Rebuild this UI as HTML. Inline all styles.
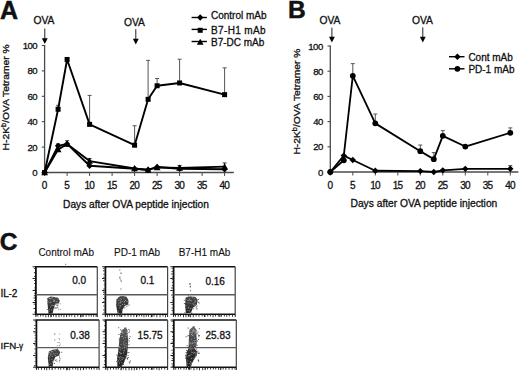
<!DOCTYPE html>
<html><head><meta charset="utf-8"><style>
html,body{margin:0;padding:0;background:#fff;}
svg{display:block;font-family:'Liberation Sans', sans-serif;}
text{fill:#111;stroke:#111;stroke-width:0.3px;}
</style></head><body>
<svg width="520" height="372" viewBox="0 0 520 372">
<rect width="520" height="372" fill="#fff"/>
<text x="0.0" y="19.4" font-size="25" text-anchor="start" font-weight="bold" style="stroke-width:0.5px">A</text>
<text x="288.0" y="18.2" font-size="24.5" text-anchor="start" font-weight="bold" style="stroke-width:0.5px">B</text>
<text x="-0.2" y="249.8" font-size="24.5" text-anchor="start" font-weight="bold" style="stroke-width:0.5px">C</text>
<line x1="44.6" y1="45.00" x2="44.6" y2="173.0" stroke="#4a4a4a" stroke-width="1.3"/>
<line x1="44.1" y1="172.5" x2="233.8" y2="172.5" stroke="#4a4a4a" stroke-width="1.3"/>
<line x1="41.800000000000004" y1="172.50" x2="44.6" y2="172.50" stroke="#4a4a4a" stroke-width="1.1"/>
<text x="37.2" y="176.00" font-size="9.6" text-anchor="end" letter-spacing="-0.5">0</text>
<line x1="41.800000000000004" y1="147.10" x2="44.6" y2="147.10" stroke="#4a4a4a" stroke-width="1.1"/>
<text x="37.2" y="150.60" font-size="9.6" text-anchor="end" letter-spacing="-0.5">20</text>
<line x1="41.800000000000004" y1="121.70" x2="44.6" y2="121.70" stroke="#4a4a4a" stroke-width="1.1"/>
<text x="37.2" y="125.20" font-size="9.6" text-anchor="end" letter-spacing="-0.5">40</text>
<line x1="41.800000000000004" y1="96.30" x2="44.6" y2="96.30" stroke="#4a4a4a" stroke-width="1.1"/>
<text x="37.2" y="99.80" font-size="9.6" text-anchor="end" letter-spacing="-0.5">60</text>
<line x1="41.800000000000004" y1="70.90" x2="44.6" y2="70.90" stroke="#4a4a4a" stroke-width="1.1"/>
<text x="37.2" y="74.40" font-size="9.6" text-anchor="end" letter-spacing="-0.5">80</text>
<line x1="41.800000000000004" y1="45.50" x2="44.6" y2="45.50" stroke="#4a4a4a" stroke-width="1.1"/>
<text x="37.2" y="49.00" font-size="9.6" text-anchor="end" letter-spacing="-0.5">100</text>
<line x1="44.60" y1="172.5" x2="44.60" y2="176.0" stroke="#4a4a4a" stroke-width="1"/>
<text x="44.30" y="188.7" font-size="10" text-anchor="middle" letter-spacing="-0.7">0</text>
<line x1="67.10" y1="172.5" x2="67.10" y2="176.0" stroke="#4a4a4a" stroke-width="1"/>
<text x="66.80" y="188.7" font-size="10" text-anchor="middle" letter-spacing="-0.7">5</text>
<line x1="89.60" y1="172.5" x2="89.60" y2="176.0" stroke="#4a4a4a" stroke-width="1"/>
<text x="89.30" y="188.7" font-size="10" text-anchor="middle" letter-spacing="-0.7">10</text>
<line x1="112.10" y1="172.5" x2="112.10" y2="176.0" stroke="#4a4a4a" stroke-width="1"/>
<text x="111.80" y="188.7" font-size="10" text-anchor="middle" letter-spacing="-0.7">15</text>
<line x1="134.60" y1="172.5" x2="134.60" y2="176.0" stroke="#4a4a4a" stroke-width="1"/>
<text x="134.30" y="188.7" font-size="10" text-anchor="middle" letter-spacing="-0.7">20</text>
<line x1="157.10" y1="172.5" x2="157.10" y2="176.0" stroke="#4a4a4a" stroke-width="1"/>
<text x="156.80" y="188.7" font-size="10" text-anchor="middle" letter-spacing="-0.7">25</text>
<line x1="179.60" y1="172.5" x2="179.60" y2="176.0" stroke="#4a4a4a" stroke-width="1"/>
<text x="179.30" y="188.7" font-size="10" text-anchor="middle" letter-spacing="-0.7">30</text>
<line x1="202.10" y1="172.5" x2="202.10" y2="176.0" stroke="#4a4a4a" stroke-width="1"/>
<text x="201.80" y="188.7" font-size="10" text-anchor="middle" letter-spacing="-0.7">35</text>
<line x1="224.60" y1="172.5" x2="224.60" y2="176.0" stroke="#4a4a4a" stroke-width="1"/>
<text x="224.30" y="188.7" font-size="10" text-anchor="middle" letter-spacing="-0.7">40</text>
<text x="33.5" y="23.5" font-size="10.3" text-anchor="start" font-weight="normal" >OVA</text>
<line x1="44.8" y1="28.6" x2="44.8" y2="39.6" stroke="#222" stroke-width="1"/>
<polygon points="41.9,38.300000000000004 47.699999999999996,38.300000000000004 44.8,44.0" fill="#000"/>
<text x="124.0" y="25.9" font-size="10.3" text-anchor="start" font-weight="normal" >OVA</text>
<line x1="135.8" y1="29.2" x2="135.8" y2="40.0" stroke="#222" stroke-width="1"/>
<polygon points="132.9,38.7 138.70000000000002,38.7 135.8,44.4" fill="#000"/>
<text transform="translate(9.3,150.4) rotate(-90) scale(1.145,1)" font-size="9">H-2K<tspan font-size="6.5" dy="-3.2">b</tspan><tspan dy="3.2">/OVA Tetramer %</tspan></text>
<text x="63.1" y="207.7" font-size="10.1" text-anchor="start" font-weight="normal" textLength="145.8" lengthAdjust="spacingAndGlyphs">Days after OVA peptide injection</text>
<line x1="58.10" y1="109.25" x2="58.10" y2="105.32" stroke="#555" stroke-width="1"/>
<line x1="56.10" y1="105.32" x2="60.10" y2="105.32" stroke="#555" stroke-width="1"/>
<line x1="89.60" y1="124.37" x2="89.60" y2="95.41" stroke="#555" stroke-width="1"/>
<line x1="87.60" y1="95.41" x2="91.60" y2="95.41" stroke="#555" stroke-width="1"/>
<line x1="134.60" y1="145.19" x2="134.60" y2="125.76" stroke="#555" stroke-width="1"/>
<line x1="132.60" y1="125.76" x2="136.60" y2="125.76" stroke="#555" stroke-width="1"/>
<line x1="148.10" y1="99.35" x2="148.10" y2="60.36" stroke="#555" stroke-width="1"/>
<line x1="146.10" y1="60.36" x2="150.10" y2="60.36" stroke="#555" stroke-width="1"/>
<line x1="157.10" y1="85.76" x2="157.10" y2="78.52" stroke="#555" stroke-width="1"/>
<line x1="155.10" y1="78.52" x2="159.10" y2="78.52" stroke="#555" stroke-width="1"/>
<line x1="179.60" y1="82.97" x2="179.60" y2="59.22" stroke="#555" stroke-width="1"/>
<line x1="177.60" y1="59.22" x2="181.60" y2="59.22" stroke="#555" stroke-width="1"/>
<line x1="224.60" y1="94.65" x2="224.60" y2="67.85" stroke="#555" stroke-width="1"/>
<line x1="222.60" y1="67.85" x2="226.60" y2="67.85" stroke="#555" stroke-width="1"/>
<line x1="58.10" y1="145.83" x2="58.10" y2="143.93" stroke="#333" stroke-width="1"/>
<line x1="56.10" y1="143.93" x2="60.10" y2="143.93" stroke="#333" stroke-width="1"/>
<line x1="67.10" y1="143.93" x2="67.10" y2="140.75" stroke="#333" stroke-width="1"/>
<line x1="65.10" y1="140.75" x2="69.10" y2="140.75" stroke="#333" stroke-width="1"/>
<line x1="89.60" y1="161.07" x2="89.60" y2="158.53" stroke="#333" stroke-width="1"/>
<line x1="87.60" y1="158.53" x2="91.60" y2="158.53" stroke="#333" stroke-width="1"/>
<line x1="179.60" y1="167.93" x2="179.60" y2="165.51" stroke="#333" stroke-width="1"/>
<line x1="177.60" y1="165.51" x2="181.60" y2="165.51" stroke="#333" stroke-width="1"/>
<line x1="224.60" y1="166.66" x2="224.60" y2="162.97" stroke="#333" stroke-width="1"/>
<line x1="222.60" y1="162.97" x2="226.60" y2="162.97" stroke="#333" stroke-width="1"/>
<polyline points="44.60,172.50 58.10,145.83 67.10,143.93 89.60,165.77 134.60,168.69 148.10,169.71 157.10,167.04 179.60,168.69 224.60,169.32" fill="none" stroke="#000" stroke-width="1.9" stroke-linejoin="round"/>
<polyline points="44.60,172.50 58.10,149.64 67.10,143.93 89.60,161.07 134.60,168.44 148.10,169.96 157.10,167.42 179.60,167.93 224.60,166.66" fill="none" stroke="#000" stroke-width="1.9" stroke-linejoin="round"/>
<polyline points="44.60,172.50 58.10,109.25 67.10,59.47 89.60,124.37 134.60,145.19 148.10,99.35 157.10,85.76 179.60,82.97 224.60,94.65" fill="none" stroke="#000" stroke-width="1.9" stroke-linejoin="round"/>
<polygon points="44.60,169.30 47.80,172.50 44.60,175.70 41.40,172.50" fill="#000"/>
<polygon points="58.10,142.63 61.30,145.83 58.10,149.03 54.90,145.83" fill="#000"/>
<polygon points="67.10,140.73 70.30,143.93 67.10,147.12 63.90,143.93" fill="#000"/>
<polygon points="89.60,162.57 92.80,165.77 89.60,168.97 86.40,165.77" fill="#000"/>
<polygon points="134.60,165.49 137.80,168.69 134.60,171.89 131.40,168.69" fill="#000"/>
<polygon points="148.10,166.51 151.30,169.71 148.10,172.91 144.90,169.71" fill="#000"/>
<polygon points="157.10,163.84 160.30,167.04 157.10,170.24 153.90,167.04" fill="#000"/>
<polygon points="179.60,165.49 182.80,168.69 179.60,171.89 176.40,168.69" fill="#000"/>
<polygon points="224.60,166.12 227.80,169.32 224.60,172.52 221.40,169.32" fill="#000"/>
<polygon points="44.60,169.10 48.00,175.22 41.20,175.22" fill="#000"/>
<polygon points="58.10,146.24 61.50,152.36 54.70,152.36" fill="#000"/>
<polygon points="67.10,140.53 70.50,146.65 63.70,146.65" fill="#000"/>
<polygon points="89.60,157.67 93.00,163.79 86.20,163.79" fill="#000"/>
<polygon points="134.60,165.04 138.00,171.16 131.20,171.16" fill="#000"/>
<polygon points="148.10,166.56 151.50,172.68 144.70,172.68" fill="#000"/>
<polygon points="157.10,164.02 160.50,170.14 153.70,170.14" fill="#000"/>
<polygon points="179.60,164.53 183.00,170.65 176.20,170.65" fill="#000"/>
<polygon points="224.60,163.26 228.00,169.38 221.20,169.38" fill="#000"/>
<rect x="42.10" y="170.00" width="5" height="5" fill="#000"/>
<rect x="55.60" y="106.75" width="5" height="5" fill="#000"/>
<rect x="64.60" y="56.97" width="5" height="5" fill="#000"/>
<rect x="87.10" y="121.87" width="5" height="5" fill="#000"/>
<rect x="132.10" y="142.69" width="5" height="5" fill="#000"/>
<rect x="145.60" y="96.85" width="5" height="5" fill="#000"/>
<rect x="154.60" y="83.26" width="5" height="5" fill="#000"/>
<rect x="177.10" y="80.47" width="5" height="5" fill="#000"/>
<rect x="222.10" y="92.15" width="5" height="5" fill="#000"/>
<line x1="191.6" y1="17.5" x2="206.9" y2="17.5" stroke="#000" stroke-width="1.4"/>
<polygon points="200.20,14.30 203.40,17.50 200.20,20.70 197.00,17.50" fill="#000"/>
<text x="211.0" y="19.3" font-size="10" text-anchor="start" font-weight="normal" >Control mAb</text>
<line x1="191.6" y1="29.4" x2="206.9" y2="29.4" stroke="#000" stroke-width="1.4"/>
<rect x="197.70" y="27.80" width="5" height="5" fill="#000"/>
<text x="211.0" y="34.3" font-size="10" text-anchor="start" font-weight="normal" textLength="54.6" lengthAdjust="spacing">B7-H1 mAb</text>
<line x1="191.6" y1="41.5" x2="206.9" y2="41.5" stroke="#000" stroke-width="1.4"/>
<polygon points="200.20,38.70 203.60,44.82 196.80,44.82" fill="#000"/>
<text x="211.0" y="45.7" font-size="10" text-anchor="start" font-weight="normal" >B7-DC mAb</text>
<line x1="330.3" y1="45.50" x2="330.3" y2="172.5" stroke="#4a4a4a" stroke-width="1.3"/>
<line x1="329.8" y1="172.0" x2="518.4" y2="172.0" stroke="#4a4a4a" stroke-width="1.3"/>
<line x1="327.5" y1="172.00" x2="330.3" y2="172.00" stroke="#4a4a4a" stroke-width="1.1"/>
<text x="322.8" y="175.50" font-size="9.6" text-anchor="end" letter-spacing="-0.5">0</text>
<line x1="327.5" y1="146.80" x2="330.3" y2="146.80" stroke="#4a4a4a" stroke-width="1.1"/>
<text x="322.8" y="150.30" font-size="9.6" text-anchor="end" letter-spacing="-0.5">20</text>
<line x1="327.5" y1="121.60" x2="330.3" y2="121.60" stroke="#4a4a4a" stroke-width="1.1"/>
<text x="322.8" y="125.10" font-size="9.6" text-anchor="end" letter-spacing="-0.5">40</text>
<line x1="327.5" y1="96.40" x2="330.3" y2="96.40" stroke="#4a4a4a" stroke-width="1.1"/>
<text x="322.8" y="99.90" font-size="9.6" text-anchor="end" letter-spacing="-0.5">60</text>
<line x1="327.5" y1="71.20" x2="330.3" y2="71.20" stroke="#4a4a4a" stroke-width="1.1"/>
<text x="322.8" y="74.70" font-size="9.6" text-anchor="end" letter-spacing="-0.5">80</text>
<line x1="327.5" y1="46.00" x2="330.3" y2="46.00" stroke="#4a4a4a" stroke-width="1.1"/>
<text x="322.8" y="49.50" font-size="9.6" text-anchor="end" letter-spacing="-0.5">100</text>
<line x1="330.30" y1="172.0" x2="330.30" y2="175.5" stroke="#4a4a4a" stroke-width="1"/>
<text x="330.00" y="188.7" font-size="10" text-anchor="middle" letter-spacing="-0.7">0</text>
<line x1="352.80" y1="172.0" x2="352.80" y2="175.5" stroke="#4a4a4a" stroke-width="1"/>
<text x="352.50" y="188.7" font-size="10" text-anchor="middle" letter-spacing="-0.7">5</text>
<line x1="375.30" y1="172.0" x2="375.30" y2="175.5" stroke="#4a4a4a" stroke-width="1"/>
<text x="375.00" y="188.7" font-size="10" text-anchor="middle" letter-spacing="-0.7">10</text>
<line x1="397.80" y1="172.0" x2="397.80" y2="175.5" stroke="#4a4a4a" stroke-width="1"/>
<text x="397.50" y="188.7" font-size="10" text-anchor="middle" letter-spacing="-0.7">15</text>
<line x1="420.30" y1="172.0" x2="420.30" y2="175.5" stroke="#4a4a4a" stroke-width="1"/>
<text x="420.00" y="188.7" font-size="10" text-anchor="middle" letter-spacing="-0.7">20</text>
<line x1="442.80" y1="172.0" x2="442.80" y2="175.5" stroke="#4a4a4a" stroke-width="1"/>
<text x="442.50" y="188.7" font-size="10" text-anchor="middle" letter-spacing="-0.7">25</text>
<line x1="465.30" y1="172.0" x2="465.30" y2="175.5" stroke="#4a4a4a" stroke-width="1"/>
<text x="465.00" y="188.7" font-size="10" text-anchor="middle" letter-spacing="-0.7">30</text>
<line x1="487.80" y1="172.0" x2="487.80" y2="175.5" stroke="#4a4a4a" stroke-width="1"/>
<text x="487.50" y="188.7" font-size="10" text-anchor="middle" letter-spacing="-0.7">35</text>
<line x1="510.30" y1="172.0" x2="510.30" y2="175.5" stroke="#4a4a4a" stroke-width="1"/>
<text x="510.00" y="188.7" font-size="10" text-anchor="middle" letter-spacing="-0.7">40</text>
<text x="319.5" y="24.3" font-size="10.3" text-anchor="start" font-weight="normal" >OVA</text>
<line x1="331.9" y1="27.6" x2="331.9" y2="38.0" stroke="#222" stroke-width="1"/>
<polygon points="329.0,36.7 334.79999999999995,36.7 331.9,42.4" fill="#000"/>
<text x="412.0" y="23.8" font-size="10.3" text-anchor="start" font-weight="normal" >OVA</text>
<line x1="422.8" y1="27.4" x2="422.8" y2="38.0" stroke="#222" stroke-width="1"/>
<polygon points="419.90000000000003,36.7 425.7,36.7 422.8,42.4" fill="#000"/>
<text transform="translate(300.3,154.6) rotate(-90) scale(1.145,1)" font-size="9">H-2K<tspan font-size="6.5" dy="-3.2">b</tspan><tspan dy="3.2">/OVA Tetramer %</tspan></text>
<text x="350.5" y="207.3" font-size="10.1" text-anchor="start" font-weight="normal" textLength="146.8" lengthAdjust="spacingAndGlyphs">Days after OVA peptide injection</text>
<line x1="352.80" y1="75.86" x2="352.80" y2="63.64" stroke="#555" stroke-width="1"/>
<line x1="350.80" y1="63.64" x2="354.80" y2="63.64" stroke="#555" stroke-width="1"/>
<line x1="375.30" y1="123.36" x2="375.30" y2="114.04" stroke="#555" stroke-width="1"/>
<line x1="373.30" y1="114.04" x2="377.30" y2="114.04" stroke="#555" stroke-width="1"/>
<line x1="420.30" y1="151.21" x2="420.30" y2="145.04" stroke="#555" stroke-width="1"/>
<line x1="418.30" y1="145.04" x2="422.30" y2="145.04" stroke="#555" stroke-width="1"/>
<line x1="433.80" y1="159.15" x2="433.80" y2="152.60" stroke="#555" stroke-width="1"/>
<line x1="431.80" y1="152.60" x2="435.80" y2="152.60" stroke="#555" stroke-width="1"/>
<line x1="442.80" y1="135.84" x2="442.80" y2="130.67" stroke="#555" stroke-width="1"/>
<line x1="440.80" y1="130.67" x2="444.80" y2="130.67" stroke="#555" stroke-width="1"/>
<line x1="510.30" y1="132.81" x2="510.30" y2="127.90" stroke="#555" stroke-width="1"/>
<line x1="508.30" y1="127.90" x2="512.30" y2="127.90" stroke="#555" stroke-width="1"/>
<line x1="510.30" y1="168.85" x2="510.30" y2="165.70" stroke="#333" stroke-width="1"/>
<line x1="508.30" y1="165.70" x2="512.30" y2="165.70" stroke="#333" stroke-width="1"/>
<polyline points="330.30,172.00 343.80,155.62 352.80,160.03 375.30,170.74 420.30,171.12 433.80,172.00 442.80,170.36 465.30,168.85 510.30,168.85" fill="none" stroke="#000" stroke-width="1.8" stroke-linejoin="round"/>
<polyline points="330.30,172.00 343.80,160.28 343.80,155.62 352.80,75.86 375.30,123.36 420.30,151.21 433.80,159.15 442.80,135.84 465.30,146.55 510.30,132.81" fill="none" stroke="#000" stroke-width="1.8" stroke-linejoin="round"/>
<polygon points="330.30,168.80 333.50,172.00 330.30,175.20 327.10,172.00" fill="#000"/>
<polygon points="343.80,152.42 347.00,155.62 343.80,158.82 340.60,155.62" fill="#000"/>
<polygon points="352.80,156.83 356.00,160.03 352.80,163.23 349.60,160.03" fill="#000"/>
<polygon points="375.30,167.54 378.50,170.74 375.30,173.94 372.10,170.74" fill="#000"/>
<polygon points="420.30,167.92 423.50,171.12 420.30,174.32 417.10,171.12" fill="#000"/>
<polygon points="433.80,168.80 437.00,172.00 433.80,175.20 430.60,172.00" fill="#000"/>
<polygon points="442.80,167.16 446.00,170.36 442.80,173.56 439.60,170.36" fill="#000"/>
<polygon points="465.30,165.65 468.50,168.85 465.30,172.05 462.10,168.85" fill="#000"/>
<polygon points="510.30,165.65 513.50,168.85 510.30,172.05 507.10,168.85" fill="#000"/>
<circle cx="330.30" cy="172.00" r="2.9" fill="#000"/>
<circle cx="343.80" cy="160.28" r="2.9" fill="#000"/>
<circle cx="352.80" cy="75.86" r="2.9" fill="#000"/>
<circle cx="375.30" cy="123.36" r="2.9" fill="#000"/>
<circle cx="420.30" cy="151.21" r="2.9" fill="#000"/>
<circle cx="433.80" cy="159.15" r="2.9" fill="#000"/>
<circle cx="442.80" cy="135.84" r="2.9" fill="#000"/>
<circle cx="465.30" cy="146.55" r="2.9" fill="#000"/>
<circle cx="510.30" cy="132.81" r="2.9" fill="#000"/>
<line x1="449" y1="56.7" x2="464.5" y2="56.7" stroke="#000" stroke-width="1.4"/>
<polygon points="457.40,53.50 460.60,56.70 457.40,59.90 454.20,56.70" fill="#000"/>
<text x="468.4" y="61.300000000000004" font-size="10" text-anchor="start" font-weight="normal" >Cont mAb</text>
<line x1="449" y1="68.8" x2="464.5" y2="68.8" stroke="#000" stroke-width="1.4"/>
<circle cx="457.40" cy="68.80" r="2.9" fill="#000"/>
<text x="468.4" y="73.39999999999999" font-size="10" text-anchor="start" font-weight="normal" >PD-1 mAb</text>
<text x="38.4" y="255.6" font-size="10" text-anchor="start" font-weight="normal" style="stroke-width:0.12px">Control mAb</text>
<text x="114.0" y="255.9" font-size="10" text-anchor="start" font-weight="normal" style="stroke-width:0.12px">PD-1 mAb</text>
<text x="178.7" y="255.9" font-size="10" text-anchor="start" font-weight="normal" style="stroke-width:0.12px">B7-H1 mAb</text>
<text x="0.6" y="297.0" font-size="10.1" text-anchor="start" font-weight="normal" letter-spacing="-0.2">IL-2</text>
<rect x="65.2" y="263.8" width="1" height="1" fill="#555"/>
<text x="0.6" y="349.1" font-size="9.7" text-anchor="start" font-weight="normal" >IFN<tspan dx="-0.3" dy="0.9">-</tspan><tspan dy="-0.9" font-size="8.2" dx="-0.2">&#947;</tspan></text>
<line x1="34.9" y1="266.7" x2="97.3" y2="266.7" stroke="#111" stroke-width="1.6"/>
<line x1="97.3" y1="266.7" x2="97.3" y2="314.3" stroke="#444" stroke-width="1.2"/>
<line x1="35.9" y1="314.3" x2="97.3" y2="314.3" stroke="#111" stroke-width="1.5"/>
<line x1="35.9" y1="266.7" x2="35.9" y2="315.3" stroke="#111" stroke-width="1.8"/>
<line x1="35.9" y1="294.7" x2="97.3" y2="294.7" stroke="#5a5a5a" stroke-width="1.4"/>
<path d="M33.9 267.9h1.1v0.9h-1.1zM33.9 272.3h1.1v0.9h-1.1zM34.2 276.0h0.8v0.9h-0.8zM34.2 280.1h0.8v0.9h-0.8zM34.2 283.1h0.8v0.9h-0.8zM34.2 287.4h0.8v0.9h-0.8zM33.9 289.7h1.1v0.9h-1.1zM34.2 292.8h0.8v0.9h-0.8zM33.9 295.3h1.1v0.9h-1.1zM33.5 297.6h1.5v0.9h-1.5zM34.2 300.1h0.8v0.9h-0.8zM33.5 303.7h1.5v0.9h-1.5zM33.5 308.1h1.5v0.9h-1.5zM34.2 311.7h0.8v0.9h-0.8zM37.4 315.0h0.9v1.4h-0.9zM40.2 315.0h0.9v1.4h-0.9zM42.6 315.0h0.9v1.4h-0.9zM45.4 315.0h0.9v2.2h-0.9zM47.9 315.0h0.9v2.2h-0.9zM50.3 315.0h0.9v2.2h-0.9zM53.0 315.0h0.9v1.4h-0.9zM55.6 315.0h0.9v2.2h-0.9zM58.5 315.0h0.9v2.2h-0.9zM60.8 315.0h0.9v1.4h-0.9zM63.5 315.0h0.9v2.2h-0.9zM66.1 315.0h0.9v1.8h-0.9zM68.8 315.0h0.9v1.8h-0.9zM71.3 315.0h0.9v1.4h-0.9zM74.3 315.0h0.9v2.2h-0.9zM77.3 315.0h0.9v1.4h-0.9zM80.1 315.0h0.9v2.2h-0.9zM82.8 315.0h0.9v1.8h-0.9zM85.7 315.0h0.9v1.8h-0.9zM88.5 315.0h0.9v1.4h-0.9zM90.8 315.0h0.9v1.8h-0.9zM93.2 315.0h0.9v1.8h-0.9zM95.6 315.0h0.9v1.8h-0.9zM32.6 313.8h2.5v1h-2.5zM35.4 314.3h1v2.8h-1zM32.6 301.9h2.5v1h-2.5zM50.8 314.3h1v2.8h-1zM32.6 290.0h2.5v1h-2.5zM66.1 314.3h1v2.8h-1zM32.6 278.1h2.5v1h-2.5zM81.4 314.3h1v2.8h-1zM32.6 266.2h2.5v1h-2.5zM96.8 314.3h1v2.8h-1z" fill="#222"/>
<text x="72.2" y="283.5" font-size="10" text-anchor="start" font-weight="normal" >0.0</text>
<line x1="104.4" y1="266.7" x2="167.6" y2="266.7" stroke="#111" stroke-width="1.6"/>
<line x1="167.6" y1="266.7" x2="167.6" y2="314.3" stroke="#444" stroke-width="1.2"/>
<line x1="105.4" y1="314.3" x2="167.6" y2="314.3" stroke="#111" stroke-width="1.5"/>
<line x1="105.4" y1="266.7" x2="105.4" y2="315.3" stroke="#111" stroke-width="1.8"/>
<line x1="105.4" y1="294.7" x2="167.6" y2="294.7" stroke="#5a5a5a" stroke-width="1.4"/>
<path d="M103.0 267.9h1.5v0.9h-1.5zM103.0 270.3h1.5v0.9h-1.5zM103.4 273.8h1.1v0.9h-1.1zM103.4 276.8h1.1v0.9h-1.1zM103.0 280.3h1.5v0.9h-1.5zM103.7 284.4h0.8v0.9h-0.8zM103.4 288.5h1.1v0.9h-1.1zM103.0 291.8h1.5v0.9h-1.5zM103.0 294.2h1.5v0.9h-1.5zM103.0 298.0h1.5v0.9h-1.5zM103.0 301.5h1.5v0.9h-1.5zM103.4 305.6h1.1v0.9h-1.1zM103.0 309.4h1.5v0.9h-1.5zM103.4 312.4h1.1v0.9h-1.1zM106.9 315.0h0.9v2.2h-0.9zM109.2 315.0h0.9v1.4h-0.9zM111.6 315.0h0.9v1.8h-0.9zM114.0 315.0h0.9v1.4h-0.9zM116.6 315.0h0.9v1.8h-0.9zM118.8 315.0h0.9v1.8h-0.9zM121.4 315.0h0.9v1.8h-0.9zM124.5 315.0h0.9v1.8h-0.9zM127.6 315.0h0.9v1.8h-0.9zM130.5 315.0h0.9v1.8h-0.9zM133.4 315.0h0.9v1.8h-0.9zM136.5 315.0h0.9v1.4h-0.9zM138.8 315.0h0.9v1.4h-0.9zM141.3 315.0h0.9v1.4h-0.9zM143.5 315.0h0.9v2.2h-0.9zM145.8 315.0h0.9v1.8h-0.9zM148.1 315.0h0.9v1.8h-0.9zM150.8 315.0h0.9v2.2h-0.9zM153.6 315.0h0.9v1.4h-0.9zM156.4 315.0h0.9v2.2h-0.9zM159.6 315.0h0.9v2.2h-0.9zM162.5 315.0h0.9v1.4h-0.9zM165.1 315.0h0.9v2.2h-0.9zM102.1 313.8h2.5v1h-2.5zM104.9 314.3h1v2.8h-1zM102.1 301.9h2.5v1h-2.5zM120.5 314.3h1v2.8h-1zM102.1 290.0h2.5v1h-2.5zM136.0 314.3h1v2.8h-1zM102.1 278.1h2.5v1h-2.5zM151.6 314.3h1v2.8h-1zM102.1 266.2h2.5v1h-2.5zM167.1 314.3h1v2.8h-1z" fill="#222"/>
<text x="140.5" y="283.5" font-size="10" text-anchor="start" font-weight="normal" >0.1</text>
<line x1="172.6" y1="266.7" x2="235.2" y2="266.7" stroke="#111" stroke-width="1.6"/>
<line x1="235.2" y1="266.7" x2="235.2" y2="314.3" stroke="#444" stroke-width="1.2"/>
<line x1="173.6" y1="314.3" x2="235.2" y2="314.3" stroke="#111" stroke-width="1.5"/>
<line x1="173.6" y1="266.7" x2="173.6" y2="315.3" stroke="#111" stroke-width="1.8"/>
<line x1="173.6" y1="294.7" x2="235.2" y2="294.7" stroke="#5a5a5a" stroke-width="1.4"/>
<path d="M171.6 267.9h1.1v0.9h-1.1zM171.6 271.0h1.1v0.9h-1.1zM171.2 273.5h1.5v0.9h-1.5zM171.9 276.6h0.8v0.9h-0.8zM171.9 278.9h0.8v0.9h-0.8zM171.9 282.1h0.8v0.9h-0.8zM171.9 285.1h0.8v0.9h-0.8zM171.2 287.6h1.5v0.9h-1.5zM171.9 290.1h0.8v0.9h-0.8zM171.2 294.5h1.5v0.9h-1.5zM171.9 296.7h0.8v0.9h-0.8zM171.9 300.4h0.8v0.9h-0.8zM171.6 304.0h1.1v0.9h-1.1zM171.6 307.6h1.1v0.9h-1.1zM171.6 310.1h1.1v0.9h-1.1zM175.1 315.0h0.9v1.8h-0.9zM177.8 315.0h0.9v1.8h-0.9zM180.1 315.0h0.9v1.4h-0.9zM183.0 315.0h0.9v2.2h-0.9zM185.5 315.0h0.9v2.2h-0.9zM187.8 315.0h0.9v1.4h-0.9zM190.2 315.0h0.9v2.2h-0.9zM192.8 315.0h0.9v2.2h-0.9zM195.6 315.0h0.9v1.4h-0.9zM198.5 315.0h0.9v1.8h-0.9zM201.7 315.0h0.9v1.4h-0.9zM204.6 315.0h0.9v1.8h-0.9zM207.3 315.0h0.9v1.4h-0.9zM209.9 315.0h0.9v1.4h-0.9zM212.6 315.0h0.9v2.2h-0.9zM215.1 315.0h0.9v1.4h-0.9zM217.9 315.0h0.9v1.4h-0.9zM220.9 315.0h0.9v1.8h-0.9zM223.9 315.0h0.9v1.4h-0.9zM226.3 315.0h0.9v1.8h-0.9zM228.8 315.0h0.9v1.4h-0.9zM232.0 315.0h0.9v1.8h-0.9zM170.3 313.8h2.5v1h-2.5zM173.1 314.3h1v2.8h-1zM170.3 301.9h2.5v1h-2.5zM188.5 314.3h1v2.8h-1zM170.3 290.0h2.5v1h-2.5zM203.9 314.3h1v2.8h-1zM170.3 278.1h2.5v1h-2.5zM219.3 314.3h1v2.8h-1zM170.3 266.2h2.5v1h-2.5zM234.7 314.3h1v2.8h-1z" fill="#222"/>
<text x="205.4" y="285.4" font-size="10" text-anchor="start" font-weight="normal" >0.16</text>
<line x1="35.4" y1="320.0" x2="99.1" y2="320.0" stroke="#111" stroke-width="1.6"/>
<line x1="99.1" y1="320.0" x2="99.1" y2="367.3" stroke="#444" stroke-width="1.2"/>
<line x1="36.4" y1="367.3" x2="99.1" y2="367.3" stroke="#111" stroke-width="1.5"/>
<line x1="36.4" y1="320.0" x2="36.4" y2="368.3" stroke="#111" stroke-width="1.8"/>
<line x1="36.4" y1="347.6" x2="99.1" y2="347.6" stroke="#5a5a5a" stroke-width="1.4"/>
<path d="M34.7 321.2h0.8v0.9h-0.8zM34.4 325.0h1.1v0.9h-1.1zM34.0 328.2h1.5v0.9h-1.5zM34.4 332.7h1.1v0.9h-1.1zM34.7 335.1h0.8v0.9h-0.8zM34.7 337.8h0.8v0.9h-0.8zM34.4 340.8h1.1v0.9h-1.1zM34.0 344.4h1.5v0.9h-1.5zM34.4 348.5h1.1v0.9h-1.1zM34.4 352.8h1.1v0.9h-1.1zM34.7 356.9h0.8v0.9h-0.8zM34.7 361.0h0.8v0.9h-0.8zM34.0 365.3h1.5v0.9h-1.5zM37.9 368.0h0.9v1.8h-0.9zM41.0 368.0h0.9v1.8h-0.9zM44.0 368.0h0.9v1.8h-0.9zM46.3 368.0h0.9v2.2h-0.9zM48.9 368.0h0.9v1.8h-0.9zM51.8 368.0h0.9v1.4h-0.9zM54.7 368.0h0.9v1.4h-0.9zM57.9 368.0h0.9v1.4h-0.9zM60.3 368.0h0.9v1.8h-0.9zM63.3 368.0h0.9v1.4h-0.9zM66.1 368.0h0.9v2.2h-0.9zM69.3 368.0h0.9v2.2h-0.9zM72.4 368.0h0.9v1.4h-0.9zM75.2 368.0h0.9v1.4h-0.9zM77.4 368.0h0.9v2.2h-0.9zM80.2 368.0h0.9v2.2h-0.9zM83.2 368.0h0.9v1.4h-0.9zM85.8 368.0h0.9v1.4h-0.9zM88.8 368.0h0.9v1.4h-0.9zM91.1 368.0h0.9v1.4h-0.9zM93.6 368.0h0.9v1.4h-0.9zM96.5 368.0h0.9v1.8h-0.9zM33.1 366.8h2.5v1h-2.5zM35.9 367.3h1v2.8h-1zM33.1 355.0h2.5v1h-2.5zM51.6 367.3h1v2.8h-1zM33.1 343.1h2.5v1h-2.5zM67.2 367.3h1v2.8h-1zM33.1 331.3h2.5v1h-2.5zM82.9 367.3h1v2.8h-1zM33.1 319.5h2.5v1h-2.5zM98.6 367.3h1v2.8h-1z" fill="#222"/>
<text x="70.3" y="338.7" font-size="10" text-anchor="start" font-weight="normal" >0.38</text>
<line x1="104.8" y1="320.0" x2="167.6" y2="320.0" stroke="#111" stroke-width="1.6"/>
<line x1="167.6" y1="320.0" x2="167.6" y2="367.3" stroke="#444" stroke-width="1.2"/>
<line x1="105.8" y1="367.3" x2="167.6" y2="367.3" stroke="#111" stroke-width="1.5"/>
<line x1="105.8" y1="320.0" x2="105.8" y2="368.3" stroke="#111" stroke-width="1.8"/>
<line x1="105.8" y1="347.6" x2="167.6" y2="347.6" stroke="#5a5a5a" stroke-width="1.4"/>
<path d="M103.8 321.2h1.1v0.9h-1.1zM104.1 325.3h0.8v0.9h-0.8zM103.8 329.6h1.1v0.9h-1.1zM103.4 333.9h1.5v0.9h-1.5zM103.4 337.4h1.5v0.9h-1.5zM103.4 340.6h1.5v0.9h-1.5zM104.1 343.1h0.8v0.9h-0.8zM104.1 346.5h0.8v0.9h-0.8zM104.1 350.7h0.8v0.9h-0.8zM104.1 354.3h0.8v0.9h-0.8zM103.8 356.9h1.1v0.9h-1.1zM104.1 360.5h0.8v0.9h-0.8zM103.8 364.0h1.1v0.9h-1.1zM107.3 368.0h0.9v2.2h-0.9zM110.1 368.0h0.9v1.4h-0.9zM113.1 368.0h0.9v1.4h-0.9zM115.6 368.0h0.9v1.8h-0.9zM117.8 368.0h0.9v1.4h-0.9zM120.5 368.0h0.9v2.2h-0.9zM122.8 368.0h0.9v1.4h-0.9zM125.4 368.0h0.9v2.2h-0.9zM128.6 368.0h0.9v2.2h-0.9zM131.3 368.0h0.9v2.2h-0.9zM133.8 368.0h0.9v2.2h-0.9zM136.5 368.0h0.9v1.8h-0.9zM139.2 368.0h0.9v1.4h-0.9zM142.1 368.0h0.9v1.8h-0.9zM145.2 368.0h0.9v1.4h-0.9zM148.3 368.0h0.9v1.4h-0.9zM150.9 368.0h0.9v1.8h-0.9zM153.5 368.0h0.9v1.4h-0.9zM156.4 368.0h0.9v1.8h-0.9zM158.7 368.0h0.9v2.2h-0.9zM161.2 368.0h0.9v1.4h-0.9zM164.3 368.0h0.9v1.4h-0.9zM102.5 366.8h2.5v1h-2.5zM105.3 367.3h1v2.8h-1zM102.5 355.0h2.5v1h-2.5zM120.8 367.3h1v2.8h-1zM102.5 343.1h2.5v1h-2.5zM136.2 367.3h1v2.8h-1zM102.5 331.3h2.5v1h-2.5zM151.6 367.3h1v2.8h-1zM102.5 319.5h2.5v1h-2.5zM167.1 367.3h1v2.8h-1z" fill="#222"/>
<text x="137.6" y="338.7" font-size="10" text-anchor="start" font-weight="normal" >15.75</text>
<line x1="172.8" y1="320.0" x2="236.3" y2="320.0" stroke="#111" stroke-width="1.6"/>
<line x1="236.3" y1="320.0" x2="236.3" y2="367.3" stroke="#444" stroke-width="1.2"/>
<line x1="173.8" y1="367.3" x2="236.3" y2="367.3" stroke="#111" stroke-width="1.5"/>
<line x1="173.8" y1="320.0" x2="173.8" y2="368.3" stroke="#111" stroke-width="1.8"/>
<line x1="173.8" y1="347.6" x2="236.3" y2="347.6" stroke="#5a5a5a" stroke-width="1.4"/>
<path d="M171.4 321.2h1.5v0.9h-1.5zM172.1 324.9h0.8v0.9h-0.8zM172.1 327.7h0.8v0.9h-0.8zM172.1 332.1h0.8v0.9h-0.8zM172.1 336.0h0.8v0.9h-0.8zM171.8 339.2h1.1v0.9h-1.1zM171.4 341.7h1.5v0.9h-1.5zM172.1 345.8h0.8v0.9h-0.8zM171.4 349.7h1.5v0.9h-1.5zM171.8 352.8h1.1v0.9h-1.1zM171.8 355.5h1.1v0.9h-1.1zM171.8 357.9h1.1v0.9h-1.1zM171.4 360.1h1.5v0.9h-1.5zM171.4 363.4h1.5v0.9h-1.5zM171.8 365.6h1.1v0.9h-1.1zM175.3 368.0h0.9v1.8h-0.9zM178.0 368.0h0.9v1.4h-0.9zM180.3 368.0h0.9v1.4h-0.9zM183.5 368.0h0.9v1.4h-0.9zM185.8 368.0h0.9v1.8h-0.9zM188.0 368.0h0.9v1.4h-0.9zM190.5 368.0h0.9v1.4h-0.9zM193.5 368.0h0.9v2.2h-0.9zM196.5 368.0h0.9v1.8h-0.9zM199.1 368.0h0.9v2.2h-0.9zM202.3 368.0h0.9v2.2h-0.9zM204.9 368.0h0.9v1.8h-0.9zM207.2 368.0h0.9v1.4h-0.9zM210.2 368.0h0.9v1.4h-0.9zM212.9 368.0h0.9v1.4h-0.9zM215.3 368.0h0.9v1.4h-0.9zM218.2 368.0h0.9v1.8h-0.9zM220.5 368.0h0.9v1.4h-0.9zM222.7 368.0h0.9v1.4h-0.9zM225.4 368.0h0.9v1.8h-0.9zM228.6 368.0h0.9v1.8h-0.9zM231.7 368.0h0.9v1.8h-0.9zM234.5 368.0h0.9v1.4h-0.9zM170.5 366.8h2.5v1h-2.5zM173.3 367.3h1v2.8h-1zM170.5 355.0h2.5v1h-2.5zM188.9 367.3h1v2.8h-1zM170.5 343.1h2.5v1h-2.5zM204.6 367.3h1v2.8h-1zM170.5 331.3h2.5v1h-2.5zM220.2 367.3h1v2.8h-1zM170.5 319.5h2.5v1h-2.5zM235.8 367.3h1v2.8h-1z" fill="#222"/>
<text x="205.5" y="338.7" font-size="10" text-anchor="start" font-weight="normal" >25.83</text>
<defs><linearGradient id="gb" x1="0" y1="0" x2="0" y2="1"><stop offset="0" stop-color="#4a4a4a"/><stop offset="0.45" stop-color="#383838"/><stop offset="1" stop-color="#252525"/></linearGradient></defs>
<defs><linearGradient id="gb2" x1="0" y1="0" x2="0" y2="1"><stop offset="0" stop-color="#6a6a6a"/><stop offset="0.3" stop-color="#4a4a4a"/><stop offset="0.5" stop-color="#444"/><stop offset="0.6" stop-color="#2c2c2c"/><stop offset="1" stop-color="#222"/></linearGradient></defs>
<polygon points="47.7,298.1 50.5,296.5 54.5,296.9 58.1,297.7 59.8,300.5 59.0,302.9 56.1,303.7 54.5,306.1 53.3,310.2 52.5,313.8 48.5,313.8 48.1,309.4 47.3,302.1" fill="url(#gb)" fill-opacity="1"/>
<path d="M50.3 298.4h0.8v0.8h-0.8zM49.3 297.4h0.8v0.8h-0.8zM49.8 301.9h0.8v0.8h-0.8zM51.1 309.6h0.8v0.8h-0.8zM50.9 305.2h0.8v0.8h-0.8zM49.5 302.5h0.8v0.8h-0.8zM47.5 300.8h0.8v0.8h-0.8zM54.2 299.8h0.8v0.8h-0.8zM48.6 310.7h0.8v0.8h-0.8zM52.7 305.1h0.8v0.8h-0.8zM53.6 308.4h0.8v0.8h-0.8zM55.2 303.5h0.8v0.8h-0.8zM51.6 297.4h0.8v0.8h-0.8zM48.9 297.7h0.8v0.8h-0.8zM56.6 300.9h0.8v0.8h-0.8zM49.3 298.0h0.8v0.8h-0.8zM55.7 301.4h0.8v0.8h-0.8zM50.3 301.6h0.8v0.8h-0.8zM53.0 299.2h0.8v0.8h-0.8zM52.9 301.1h0.8v0.8h-0.8zM54.1 300.7h0.8v0.8h-0.8zM52.1 304.7h0.8v0.8h-0.8zM53.6 300.0h0.8v0.8h-0.8zM50.6 298.1h0.8v0.8h-0.8zM52.3 297.2h0.8v0.8h-0.8zM47.6 301.8h0.8v0.8h-0.8zM50.2 306.6h0.8v0.8h-0.8zM51.4 313.5h0.8v0.8h-0.8zM49.2 309.0h0.8v0.8h-0.8zM55.3 297.3h0.8v0.8h-0.8zM57.5 298.9h0.8v0.8h-0.8zM53.8 305.2h0.8v0.8h-0.8z" fill="#fff" fill-opacity="0.55"/>
<path d="M55.5 307.0h1v1h-1zM56.4 304.5h1v1h-1zM57.4 304.7h1v1h-1zM54.1 307.6h1v1h-1zM46.8 309.0h1v1h-1zM49.7 296.9h1v1h-1zM55.4 307.3h1v1h-1zM47.0 298.2h1v1h-1z" fill="#333" fill-opacity="0.8"/>
<polygon points="119.1,296.8 122.8,296.0 126.5,296.8 128.7,300.5 128.0,304.9 125.0,305.6 122.8,309.3 122.0,313.7 117.6,313.7 116.1,304.9 116.9,299.7" fill="url(#gb)" fill-opacity="1"/>
<path d="M119.8 305.1h0.8v0.8h-0.8zM122.0 304.3h0.8v0.8h-0.8zM117.6 311.8h0.8v0.8h-0.8zM118.6 313.3h0.8v0.8h-0.8zM121.9 310.5h0.8v0.8h-0.8zM119.5 299.7h0.8v0.8h-0.8zM128.0 299.7h0.8v0.8h-0.8zM123.4 298.5h0.8v0.8h-0.8zM117.8 310.5h0.8v0.8h-0.8zM125.0 300.1h0.8v0.8h-0.8zM127.4 304.6h0.8v0.8h-0.8zM122.3 304.0h0.8v0.8h-0.8zM119.9 298.5h0.8v0.8h-0.8zM120.4 301.6h0.8v0.8h-0.8zM117.6 312.4h0.8v0.8h-0.8zM119.8 302.6h0.8v0.8h-0.8zM121.1 313.7h0.8v0.8h-0.8zM123.5 302.4h0.8v0.8h-0.8zM121.5 300.9h0.8v0.8h-0.8zM126.6 301.1h0.8v0.8h-0.8zM127.9 300.4h0.8v0.8h-0.8zM119.4 305.0h0.8v0.8h-0.8zM118.5 302.6h0.8v0.8h-0.8zM123.0 308.7h0.8v0.8h-0.8zM121.8 309.3h0.8v0.8h-0.8zM124.2 301.1h0.8v0.8h-0.8zM117.7 304.4h0.8v0.8h-0.8zM120.4 301.3h0.8v0.8h-0.8zM119.4 307.6h0.8v0.8h-0.8zM119.9 305.9h0.8v0.8h-0.8zM121.1 299.0h0.8v0.8h-0.8zM118.1 299.7h0.8v0.8h-0.8zM127.5 304.8h0.8v0.8h-0.8z" fill="#fff" fill-opacity="0.55"/>
<path d="M116.8 298.6h1v1h-1zM116.0 301.4h1v1h-1zM116.0 299.5h1v1h-1zM119.9 296.2h1v1h-1zM118.5 297.0h1v1h-1z" fill="#333" fill-opacity="0.8"/>
<polygon points="185.6,297.5 189.3,296.5 195.2,296.8 197.9,299.7 196.7,304.9 193.0,307.8 190.8,313.0 186.0,313.7 184.9,304.9" fill="url(#gb)" fill-opacity="1"/>
<path d="M194.8 304.4h0.8v0.8h-0.8zM192.1 297.2h0.8v0.8h-0.8zM195.1 300.5h0.8v0.8h-0.8zM188.8 298.7h0.8v0.8h-0.8zM188.2 307.4h0.8v0.8h-0.8zM194.0 298.4h0.8v0.8h-0.8zM185.8 305.5h0.8v0.8h-0.8zM192.5 303.2h0.8v0.8h-0.8zM187.8 306.8h0.8v0.8h-0.8zM191.1 300.5h0.8v0.8h-0.8zM188.1 313.0h0.8v0.8h-0.8zM194.1 301.8h0.8v0.8h-0.8zM185.2 305.1h0.8v0.8h-0.8zM193.7 303.7h0.8v0.8h-0.8zM188.2 308.0h0.8v0.8h-0.8zM196.9 300.4h0.8v0.8h-0.8zM185.3 302.3h0.8v0.8h-0.8zM190.4 308.2h0.8v0.8h-0.8zM187.5 310.2h0.8v0.8h-0.8zM194.5 305.2h0.8v0.8h-0.8zM187.6 313.2h0.8v0.8h-0.8zM189.0 310.6h0.8v0.8h-0.8zM187.9 300.3h0.8v0.8h-0.8zM194.8 301.6h0.8v0.8h-0.8zM187.3 300.3h0.8v0.8h-0.8zM190.3 307.9h0.8v0.8h-0.8zM197.2 299.0h0.8v0.8h-0.8zM190.0 300.2h0.8v0.8h-0.8zM190.0 311.9h0.8v0.8h-0.8zM189.2 299.7h0.8v0.8h-0.8zM185.3 307.9h0.8v0.8h-0.8zM189.8 302.9h0.8v0.8h-0.8zM189.2 299.4h0.8v0.8h-0.8zM189.5 312.9h0.8v0.8h-0.8zM186.5 313.1h0.8v0.8h-0.8zM187.6 302.6h0.8v0.8h-0.8z" fill="#fff" fill-opacity="0.55"/>
<path d="M190.3 296.4h1v1h-1zM198.1 299.0h1v1h-1zM183.9 303.0h1v1h-1zM184.4 312.2h1v1h-1zM197.8 301.7h1v1h-1zM187.8 295.6h1v1h-1zM183.8 299.8h1v1h-1zM191.0 312.9h1v1h-1zM198.7 302.5h1v1h-1zM191.3 312.4h1v1h-1zM195.8 306.6h1v1h-1z" fill="#333" fill-opacity="0.8"/>
<polygon points="48.9,351.6 52.7,349.7 57.7,349.0 60.3,352.2 59.0,355.4 55.2,357.3 53.3,361.7 52.7,366.8 48.9,366.8 47.8,357.9" fill="url(#gb)" fill-opacity="1"/>
<path d="M48.8 352.5h0.8v0.8h-0.8zM57.2 353.4h0.8v0.8h-0.8zM54.7 354.8h0.8v0.8h-0.8zM53.4 353.2h0.8v0.8h-0.8zM53.0 360.0h0.8v0.8h-0.8zM49.3 364.0h0.8v0.8h-0.8zM51.5 359.1h0.8v0.8h-0.8zM52.5 362.1h0.8v0.8h-0.8zM50.3 353.4h0.8v0.8h-0.8zM50.9 351.7h0.8v0.8h-0.8zM51.9 356.1h0.8v0.8h-0.8zM50.7 363.4h0.8v0.8h-0.8zM49.1 357.5h0.8v0.8h-0.8zM51.5 351.1h0.8v0.8h-0.8zM50.2 366.3h0.8v0.8h-0.8zM52.5 364.4h0.8v0.8h-0.8zM53.4 353.6h0.8v0.8h-0.8zM49.1 359.6h0.8v0.8h-0.8zM55.5 352.9h0.8v0.8h-0.8zM52.4 351.5h0.8v0.8h-0.8zM50.3 353.5h0.8v0.8h-0.8zM51.9 361.1h0.8v0.8h-0.8zM50.1 354.6h0.8v0.8h-0.8zM50.3 363.2h0.8v0.8h-0.8zM54.7 350.1h0.8v0.8h-0.8zM49.1 356.0h0.8v0.8h-0.8zM48.9 351.9h0.8v0.8h-0.8zM56.5 356.3h0.8v0.8h-0.8zM51.3 354.5h0.8v0.8h-0.8zM54.9 355.4h0.8v0.8h-0.8z" fill="#fff" fill-opacity="0.55"/>
<path d="M59.0 355.6h1v1h-1zM54.8 360.0h1v1h-1zM53.9 363.1h1v1h-1zM61.3 351.7h1v1h-1zM48.3 365.7h1v1h-1z" fill="#333" fill-opacity="0.8"/>
<polygon points="125.9,327.2 127.5,330.0 128.3,340.0 127.7,348.0 127.0,355.0 124.3,362.0 121.6,367.3 117.4,367.3 117.2,358.0 118.6,348.0 119.3,340.0 121.3,330.5" fill="url(#gb2)" fill-opacity="1"/>
<path d="M121.5 332.1h0.8v0.8h-0.8zM119.9 356.3h0.8v0.8h-0.8zM123.4 357.6h0.8v0.8h-0.8zM117.6 360.8h0.8v0.8h-0.8zM118.5 351.2h0.8v0.8h-0.8zM123.3 352.3h0.8v0.8h-0.8zM120.6 344.0h0.8v0.8h-0.8zM123.7 344.3h0.8v0.8h-0.8zM124.5 345.1h0.8v0.8h-0.8zM124.1 346.8h0.8v0.8h-0.8zM119.8 357.8h0.8v0.8h-0.8zM125.9 345.6h0.8v0.8h-0.8zM119.2 346.2h0.8v0.8h-0.8zM122.0 330.9h0.8v0.8h-0.8zM122.1 347.7h0.8v0.8h-0.8zM118.1 356.6h0.8v0.8h-0.8zM125.8 347.7h0.8v0.8h-0.8zM121.4 365.3h0.8v0.8h-0.8zM118.7 361.6h0.8v0.8h-0.8zM126.2 335.0h0.8v0.8h-0.8zM119.0 358.8h0.8v0.8h-0.8zM121.1 357.5h0.8v0.8h-0.8zM119.0 363.2h0.8v0.8h-0.8zM120.3 359.9h0.8v0.8h-0.8zM118.8 347.3h0.8v0.8h-0.8zM127.4 335.6h0.8v0.8h-0.8zM120.1 347.5h0.8v0.8h-0.8zM127.1 334.0h0.8v0.8h-0.8zM125.9 331.8h0.8v0.8h-0.8zM123.1 352.7h0.8v0.8h-0.8zM121.2 362.2h0.8v0.8h-0.8zM123.4 350.5h0.8v0.8h-0.8zM127.0 331.4h0.8v0.8h-0.8zM121.6 359.2h0.8v0.8h-0.8zM120.1 366.9h0.8v0.8h-0.8zM123.6 341.6h0.8v0.8h-0.8zM125.7 344.9h0.8v0.8h-0.8zM119.2 357.0h0.8v0.8h-0.8zM117.7 360.1h0.8v0.8h-0.8zM120.0 352.8h0.8v0.8h-0.8zM124.6 339.7h0.8v0.8h-0.8zM118.9 351.9h0.8v0.8h-0.8zM122.0 347.8h0.8v0.8h-0.8zM127.1 332.5h0.8v0.8h-0.8zM119.7 353.4h0.8v0.8h-0.8zM121.1 331.5h0.8v0.8h-0.8zM121.2 336.2h0.8v0.8h-0.8zM123.7 350.8h0.8v0.8h-0.8zM119.5 352.2h0.8v0.8h-0.8zM122.5 332.6h0.8v0.8h-0.8zM127.6 337.0h0.8v0.8h-0.8zM125.9 343.3h0.8v0.8h-0.8zM124.4 349.7h0.8v0.8h-0.8zM121.1 353.1h0.8v0.8h-0.8zM122.1 364.8h0.8v0.8h-0.8zM125.3 337.2h0.8v0.8h-0.8zM123.1 343.5h0.8v0.8h-0.8zM125.8 327.7h0.8v0.8h-0.8zM123.9 347.5h0.8v0.8h-0.8zM124.3 359.8h0.8v0.8h-0.8zM122.4 356.9h0.8v0.8h-0.8zM122.2 336.3h0.8v0.8h-0.8zM125.5 355.1h0.8v0.8h-0.8zM126.6 355.7h0.8v0.8h-0.8zM120.2 349.4h0.8v0.8h-0.8zM122.0 358.8h0.8v0.8h-0.8zM123.0 337.8h0.8v0.8h-0.8z" fill="#fff" fill-opacity="0.55"/>
<path d="M128.5 352.1h1v1h-1zM127.5 354.9h1v1h-1zM120.0 334.9h1v1h-1zM128.5 332.1h1v1h-1zM128.8 340.4h1v1h-1zM116.3 354.7h1v1h-1zM128.3 328.9h1v1h-1zM129.0 330.6h1v1h-1zM116.2 361.0h1v1h-1zM127.3 352.2h1v1h-1zM117.1 357.3h1v1h-1zM118.6 339.3h1v1h-1zM119.3 337.8h1v1h-1zM124.4 327.5h1v1h-1zM117.0 359.9h1v1h-1zM129.0 337.9h1v1h-1z" fill="#333" fill-opacity="0.8"/>
<polygon points="193.5,326.0 196.3,329.5 196.8,340.0 196.5,346.0 194.5,348.5 197.5,352.0 196.5,356.0 194.8,358.5 192.1,363.0 190.8,367.3 186.7,367.3 186.0,358.0 186.7,352.0 188.6,348.0 188.8,340.0 189.4,330.0" fill="url(#gb2)" fill-opacity="1"/>
<path d="M188.5 354.9h0.8v0.8h-0.8zM191.7 330.5h0.8v0.8h-0.8zM193.3 329.3h0.8v0.8h-0.8zM195.1 354.8h0.8v0.8h-0.8zM195.0 351.9h0.8v0.8h-0.8zM190.1 342.6h0.8v0.8h-0.8zM190.5 362.8h0.8v0.8h-0.8zM187.0 362.7h0.8v0.8h-0.8zM189.0 363.2h0.8v0.8h-0.8zM191.8 341.7h0.8v0.8h-0.8zM196.2 335.6h0.8v0.8h-0.8zM191.3 348.0h0.8v0.8h-0.8zM194.7 357.1h0.8v0.8h-0.8zM193.4 340.4h0.8v0.8h-0.8zM189.8 332.4h0.8v0.8h-0.8zM195.7 353.3h0.8v0.8h-0.8zM194.5 333.0h0.8v0.8h-0.8zM191.0 357.9h0.8v0.8h-0.8zM192.7 331.2h0.8v0.8h-0.8zM191.3 362.6h0.8v0.8h-0.8zM189.5 355.0h0.8v0.8h-0.8zM195.7 332.4h0.8v0.8h-0.8zM189.8 347.6h0.8v0.8h-0.8zM188.2 366.3h0.8v0.8h-0.8zM194.4 330.2h0.8v0.8h-0.8zM190.4 366.6h0.8v0.8h-0.8zM195.1 356.3h0.8v0.8h-0.8zM191.0 334.1h0.8v0.8h-0.8zM193.3 330.4h0.8v0.8h-0.8zM195.1 354.6h0.8v0.8h-0.8zM191.8 352.1h0.8v0.8h-0.8zM191.3 331.9h0.8v0.8h-0.8zM192.9 342.7h0.8v0.8h-0.8zM190.9 349.7h0.8v0.8h-0.8zM194.6 343.4h0.8v0.8h-0.8zM188.6 355.8h0.8v0.8h-0.8zM193.8 352.5h0.8v0.8h-0.8zM191.2 338.9h0.8v0.8h-0.8zM193.2 330.0h0.8v0.8h-0.8zM190.8 358.3h0.8v0.8h-0.8zM194.2 352.0h0.8v0.8h-0.8zM188.9 343.5h0.8v0.8h-0.8zM191.2 351.7h0.8v0.8h-0.8zM190.7 353.9h0.8v0.8h-0.8zM193.5 358.1h0.8v0.8h-0.8zM190.5 346.2h0.8v0.8h-0.8zM192.2 332.6h0.8v0.8h-0.8zM192.0 330.2h0.8v0.8h-0.8zM192.6 348.3h0.8v0.8h-0.8zM194.2 347.2h0.8v0.8h-0.8zM193.4 360.2h0.8v0.8h-0.8zM192.0 342.9h0.8v0.8h-0.8zM193.9 342.2h0.8v0.8h-0.8zM194.8 331.1h0.8v0.8h-0.8zM190.8 343.4h0.8v0.8h-0.8zM194.0 340.5h0.8v0.8h-0.8zM192.1 335.0h0.8v0.8h-0.8zM195.2 342.2h0.8v0.8h-0.8zM193.3 345.4h0.8v0.8h-0.8zM192.5 335.3h0.8v0.8h-0.8zM193.3 359.8h0.8v0.8h-0.8zM195.4 345.3h0.8v0.8h-0.8zM189.4 348.6h0.8v0.8h-0.8zM187.4 360.4h0.8v0.8h-0.8zM190.1 361.1h0.8v0.8h-0.8zM189.1 341.5h0.8v0.8h-0.8zM188.9 343.6h0.8v0.8h-0.8zM194.3 337.6h0.8v0.8h-0.8zM191.5 343.7h0.8v0.8h-0.8zM193.3 353.2h0.8v0.8h-0.8zM190.2 364.4h0.8v0.8h-0.8zM195.0 331.8h0.8v0.8h-0.8zM195.6 352.1h0.8v0.8h-0.8zM196.9 353.1h0.8v0.8h-0.8zM194.9 340.3h0.8v0.8h-0.8z" fill="#fff" fill-opacity="0.55"/>
<path d="M197.4 350.7h1v1h-1zM196.7 333.3h1v1h-1zM188.3 334.9h1v1h-1zM196.7 344.8h1v1h-1zM185.6 351.9h1v1h-1zM193.7 326.2h1v1h-1zM198.0 339.0h1v1h-1zM185.0 355.4h1v1h-1zM197.0 340.5h1v1h-1zM188.4 346.4h1v1h-1zM198.6 352.7h1v1h-1zM185.0 357.8h1v1h-1zM197.8 352.7h1v1h-1zM195.9 348.8h1v1h-1z" fill="#333" fill-opacity="0.8"/>
<path d="M56.3 304.8h1v1h-1zM57.1 304.9h1v1h-1zM57.2 306.9h1v1h-1zM59.7 303.3h1v1h-1zM57.8 303.2h1v1h-1zM55.6 307.9h1v1h-1zM57.9 308.5h1v1h-1zM57.2 303.1h1v1h-1zM56.9 306.6h1v1h-1zM59.7 308.9h1v1h-1z" fill="#888"/>
<path d="M126.4 306.1h1v1h-1zM124.5 307.2h1v1h-1zM125.1 304.8h1v1h-1zM124.1 304.0h1v1h-1zM127.4 304.6h1v1h-1zM128.8 304.4h1v1h-1zM128.3 304.6h1v1h-1zM124.1 307.6h1v1h-1z" fill="#888"/>
<path d="M193.2 308.4h1v1h-1zM192.9 304.3h1v1h-1zM195.9 308.3h1v1h-1zM196.3 308.4h1v1h-1zM192.4 307.8h1v1h-1zM195.5 306.8h1v1h-1zM196.7 305.5h1v1h-1zM196.8 308.3h1v1h-1z" fill="#888"/>
<path d="M119.3 269.4h1v1h-1zM120.4 288.6h1v1h-1zM119.4 276.5h1v1h-1zM120.5 273.0h1v1h-1zM120.8 280.7h1v1h-1zM119.4 277.8h1v1h-1zM120.3 279.5h1v1h-1zM120.5 272.5h1v1h-1z" fill="#555"/>
<path d="M190.0 283.4h1v1h-1zM189.6 286.6h1v1h-1zM189.0 283.6h1v1h-1zM190.0 290.3h1v1h-1zM190.0 285.8h1v1h-1z" fill="#555"/>
<path d="M54.3 333.9h1v1h-1zM59.8 343.5h1v1h-1zM58.6 338.0h1v1h-1zM56.8 347.7h1v1h-1zM58.7 342.0h1v1h-1zM54.5 339.4h1v1h-1zM59.1 338.7h1v1h-1zM57.5 342.0h1v1h-1zM59.2 345.1h1v1h-1zM54.3 333.0h1v1h-1zM54.1 339.3h1v1h-1zM56.7 345.2h1v1h-1zM59.1 333.6h1v1h-1zM58.7 345.2h1v1h-1z" fill="#999"/>
<path d="M59.3 359.4h1v1h-1zM56.4 361.1h1v1h-1zM59.0 360.1h1v1h-1zM59.6 358.1h1v1h-1zM55.4 359.3h1v1h-1zM59.0 357.2h1v1h-1zM58.8 361.6h1v1h-1zM56.2 359.6h1v1h-1z" fill="#888"/>
<path d="M126.1 344.6h1v1h-1zM120.5 336.2h1v1h-1zM127.0 357.7h1v1h-1zM123.5 329.5h1v1h-1zM127.7 356.9h1v1h-1zM120.8 349.2h1v1h-1zM128.8 361.4h1v1h-1zM124.3 345.1h1v1h-1zM125.1 333.6h1v1h-1zM120.3 333.2h1v1h-1zM126.4 340.5h1v1h-1zM124.8 342.1h1v1h-1zM124.2 332.0h1v1h-1zM118.5 365.9h1v1h-1zM122.5 330.2h1v1h-1zM125.6 357.5h1v1h-1zM119.9 349.9h1v1h-1zM122.1 346.8h1v1h-1zM118.2 327.3h1v1h-1zM129.9 360.6h1v1h-1zM123.8 348.7h1v1h-1zM121.1 357.2h1v1h-1zM123.1 363.9h1v1h-1zM127.2 358.8h1v1h-1zM129.6 336.2h1v1h-1zM118.5 334.0h1v1h-1zM120.2 329.3h1v1h-1zM118.6 348.3h1v1h-1zM128.4 344.3h1v1h-1zM129.4 362.4h1v1h-1z" fill="#555"/>
<path d="M185.9 349.9h1v1h-1zM190.6 330.8h1v1h-1zM198.4 336.3h1v1h-1zM192.9 351.6h1v1h-1zM198.4 352.8h1v1h-1zM190.5 343.9h1v1h-1zM187.2 364.6h1v1h-1zM198.9 334.9h1v1h-1zM185.5 336.2h1v1h-1zM189.9 362.1h1v1h-1zM197.7 359.5h1v1h-1zM185.7 357.5h1v1h-1zM194.9 351.9h1v1h-1zM198.8 328.2h1v1h-1zM187.0 356.2h1v1h-1zM198.2 353.1h1v1h-1zM189.2 349.7h1v1h-1zM195.6 330.2h1v1h-1zM189.5 336.3h1v1h-1zM186.7 345.3h1v1h-1zM187.4 335.5h1v1h-1zM187.0 353.1h1v1h-1zM185.2 354.7h1v1h-1zM187.7 327.4h1v1h-1zM198.0 334.8h1v1h-1zM198.1 360.7h1v1h-1zM197.4 331.6h1v1h-1zM191.3 329.9h1v1h-1zM198.0 359.7h1v1h-1zM193.8 344.1h1v1h-1z" fill="#555"/>
</svg></body></html>
